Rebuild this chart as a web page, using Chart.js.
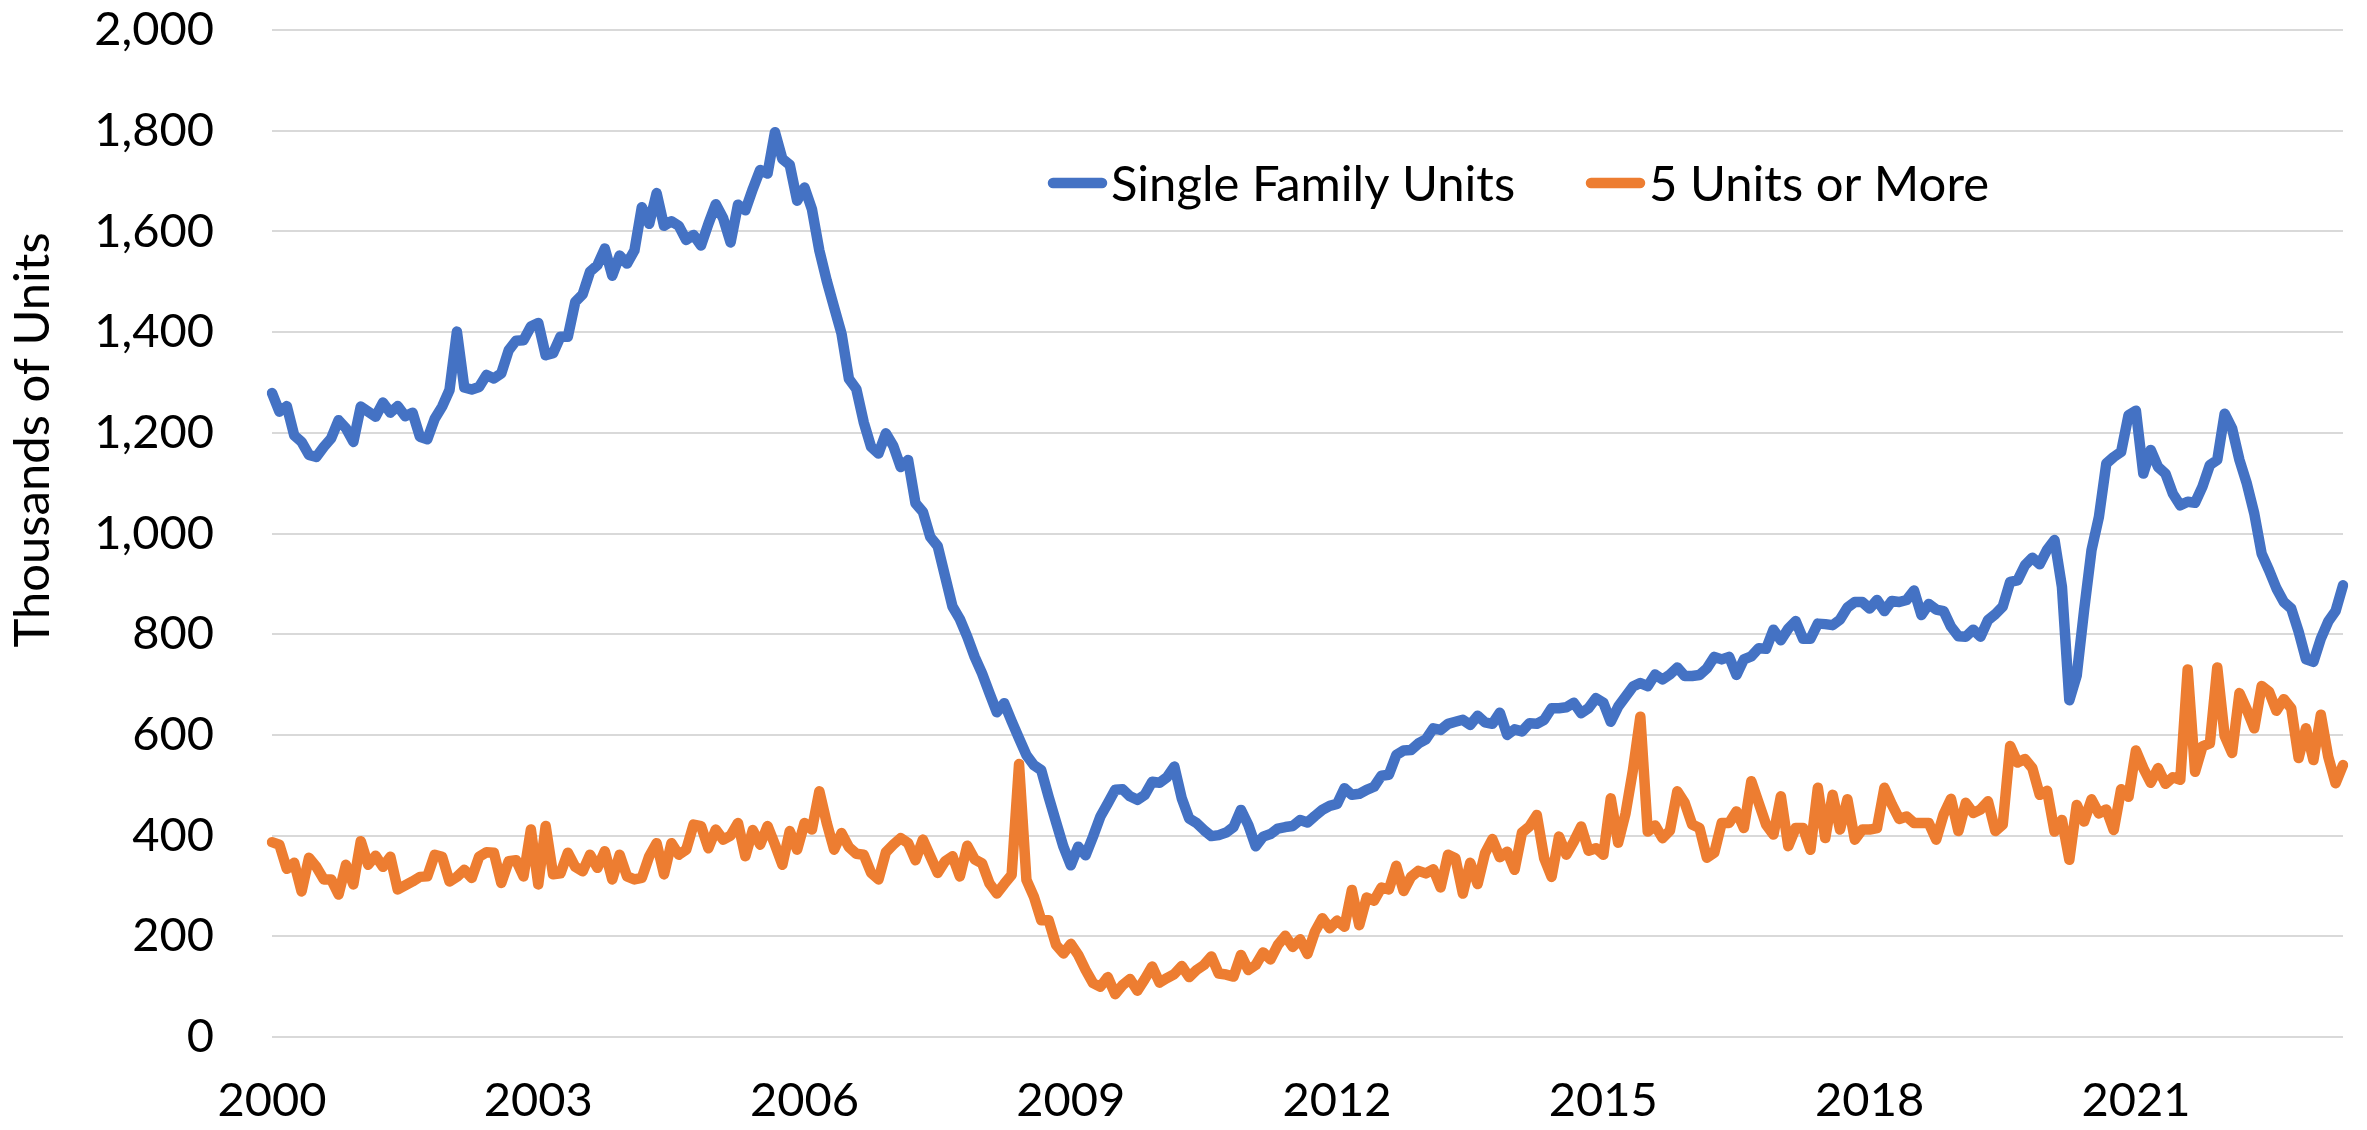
<!DOCTYPE html>
<html>
<head>
<meta charset="utf-8">
<script src="https://cdn.jsdelivr.net/npm/chart.js@4"></script>
<style>
  html, body { margin: 0; padding: 0; background: #ffffff; }
  #wrap { width: 2367px; height: 1130px; }
</style>
</head>
<body>
<div id="wrap"><canvas id="c" width="2367" height="1130"></canvas></div>
<script>
// ---- data (monthly, Jan 2000 - May 2023, thousands of units) ----
const firstYear = 2000;
const seriesNames = ['Single Family Units', '5 Units or More'];
const seriesColors = ['#4472C4', '#ED7D31'];

const singleFamily = [
1279,1242,1253,1195,1182,1156,1152,1172,1189,1225,1209,1182,
1252,1242,1232,1260,1240,1253,1233,1240,1192,1187,1228,1252,
1285,1401,1290,1286,1291,1315,1308,1318,1364,1383,1384,1411,
1418,1354,1358,1391,1391,1460,1475,1520,1533,1566,1512,1552,
1536,1562,1648,1615,1676,1611,1620,1611,1583,1593,1572,1615,
1654,1626,1578,1653,1642,1684,1722,1715,1797,1744,1732,1661,
1687,1644,1562,1502,1449,1397,1307,1287,1221,1172,1159,1199,
1174,1132,1146,1060,1043,993,975,915,855,830,795,755,
722,683,645,663,627,593,560,540,530,477,427,378,
341,378,361,398,438,464,491,492,478,471,481,507,
505,516,537,474,434,425,411,399,401,406,417,451,
421,379,398,403,414,417,419,431,426,439,451,459,
463,494,481,483,491,497,519,521,560,569,570,583,
591,613,610,622,626,630,620,638,625,622,644,600,
611,607,623,622,630,653,653,655,664,643,653,673,
664,626,656,676,696,703,697,720,710,720,734,717,
717,719,732,755,750,755,719,750,756,772,771,809,
788,811,826,791,791,821,820,818,829,853,864,864,
851,868,846,866,864,868,887,838,860,849,846,815,
796,795,809,795,828,840,855,904,907,937,952,939,
968,987,894,669,718,848,967,1033,1139,1152,1162,1235,
1244,1119,1166,1132,1119,1079,1056,1063,1061,1093,1136,1146,
1238,1209,1146,1099,1040,960,927,891,864,851,805,750,
745,791,825,846,897
];

const fivePlus = [
387,382,334,346,289,356,338,313,313,283,342,303,
389,342,360,338,358,293,301,309,318,319,362,358,
309,318,332,316,358,367,366,306,349,351,319,412,
303,419,323,325,366,338,329,362,336,369,313,362,
319,313,316,359,385,323,385,362,372,422,419,375,
412,392,400,425,359,411,382,419,382,342,409,372,
425,412,488,425,372,405,377,364,362,326,313,367,
382,395,385,351,392,359,326,349,359,319,380,353,
345,305,285,304,322,542,312,279,232,232,183,166,
185,163,133,107,100,119,85,103,115,92,115,140,
108,117,125,141,119,133,143,160,126,124,120,163,
133,143,168,154,183,201,179,194,165,209,236,216,
231,219,292,222,277,271,297,293,340,290,318,330,
325,333,297,362,355,285,346,304,365,393,357,368,
332,406,418,441,355,318,398,362,388,418,370,375,
362,474,386,444,530,636,408,420,395,410,488,465,
422,415,356,366,425,425,448,415,508,465,422,402,
478,379,415,415,372,495,395,481,412,472,392,412,
412,415,495,462,433,438,425,425,425,392,442,473,
409,465,445,452,468,409,422,578,545,552,534,481,
489,408,431,352,461,428,472,444,452,411,492,477,
569,534,505,534,503,516,511,730,527,577,583,734,
598,564,683,650,613,697,686,648,671,653,554,613,
550,640,557,504,540
];

const tickYears = ['2000','2003','2006','2009','2012','2015','2018','2021'];
const yTickValues = [0,200,400,600,800,1000,1200,1400,1600,1800,2000];
const yTitle = 'Thousands of Units';

// month categories "YYYY-MM"
const categories = [];
for (let i = 0; i < singleFamily.length; i++) {
  const y = firstYear + Math.floor(i / 12);
  const m = (i % 12) + 1;
  categories.push(y + '-' + String(m).padStart(2, '0'));
}

const FONT = "Lato, 'Open Sans', sans-serif";
const LINE_W = 10.5;

const overlay = {
  id: 'overlay',
  afterDraw(chart) {
    const ctx = chart.ctx;
    // y-axis title
    ctx.save();
    ctx.font = '49px ' + FONT;
    ctx.fillStyle = '#000000';
    ctx.textAlign = 'center';
    ctx.textBaseline = 'middle';
    ctx.translate(33, 440);
    ctx.rotate(-Math.PI / 2);
    ctx.fillText(yTitle, 0, 0);
    ctx.restore();
    // legend inside the plot area
    const spots = [{x0: 1053, x1: 1102, tx: 1111}, {x0: 1591, x1: 1640, tx: 1649}];
    const ly = 183;
    chart.data.datasets.forEach((ds, i) => {
      const s = spots[i];
      ctx.save();
      ctx.strokeStyle = ds.borderColor;
      ctx.lineWidth = LINE_W;
      ctx.lineCap = 'round';
      ctx.beginPath();
      ctx.moveTo(s.x0, ly);
      ctx.lineTo(s.x1, ly);
      ctx.stroke();
      ctx.font = '49px ' + FONT;
      ctx.fillStyle = '#000000';
      ctx.textAlign = 'left';
      ctx.textBaseline = 'middle';
      ctx.fillText(ds.label, s.tx, ly + 2);
      ctx.restore();
    });
  }
};

new Chart(document.getElementById('c'), {
  type: 'line',
  data: {
    labels: categories,
    datasets: [
      { label: seriesNames[0], data: singleFamily, borderColor: seriesColors[0], backgroundColor: seriesColors[0],
        borderWidth: LINE_W, pointRadius: 0, tension: 0, borderJoinStyle: 'round', borderCapStyle: 'round', order: 1 },
      { label: seriesNames[1], data: fivePlus, borderColor: seriesColors[1], backgroundColor: seriesColors[1],
        borderWidth: LINE_W, pointRadius: 0, tension: 0, borderJoinStyle: 'round', borderCapStyle: 'round', order: 0 }
    ]
  },
  options: {
    responsive: false,
    animation: false,
    devicePixelRatio: 1,
    layout: { autoPadding: false, padding: { top: 30, right: 24, left: 0, bottom: 0 } },
    plugins: { legend: { display: false }, tooltip: { enabled: false } },
    scales: {
      x: {
        type: 'category',
        offset: false,
        grid: { display: false, drawTicks: false },
        border: { display: false },
        ticks: {
          autoSkip: false, maxRotation: 0, minRotation: 0, padding: 36,
          color: '#000000', font: { family: FONT, size: 47 },
          callback: function(value, index) {
            const c = categories[index];
            const yr = c.slice(0, 4);
            return (c.endsWith('-01') && tickYears.includes(yr)) ? yr : '';
          }
        },
        afterFit: (scale) => { scale.height = 93; scale.paddingLeft = 0; scale.paddingRight = 0; }
      },
      y: {
        min: 0, max: 2000,
        grid: { color: '#D9D9D9', lineWidth: 2, drawTicks: false },
        border: { display: false },
        afterBuildTicks: (scale) => { scale.ticks = yTickValues.map(v => ({ value: v })); },
        ticks: {
          padding: 58, color: '#000000', font: { family: FONT, size: 47 },
          callback: (v) => Number(v).toLocaleString('en-US')
        },
        afterFit: (scale) => { scale.width = 272; scale.paddingTop = 0; scale.paddingBottom = 0; }
      }
    }
  },
  plugins: [overlay]
});
</script>
</body>
</html>
